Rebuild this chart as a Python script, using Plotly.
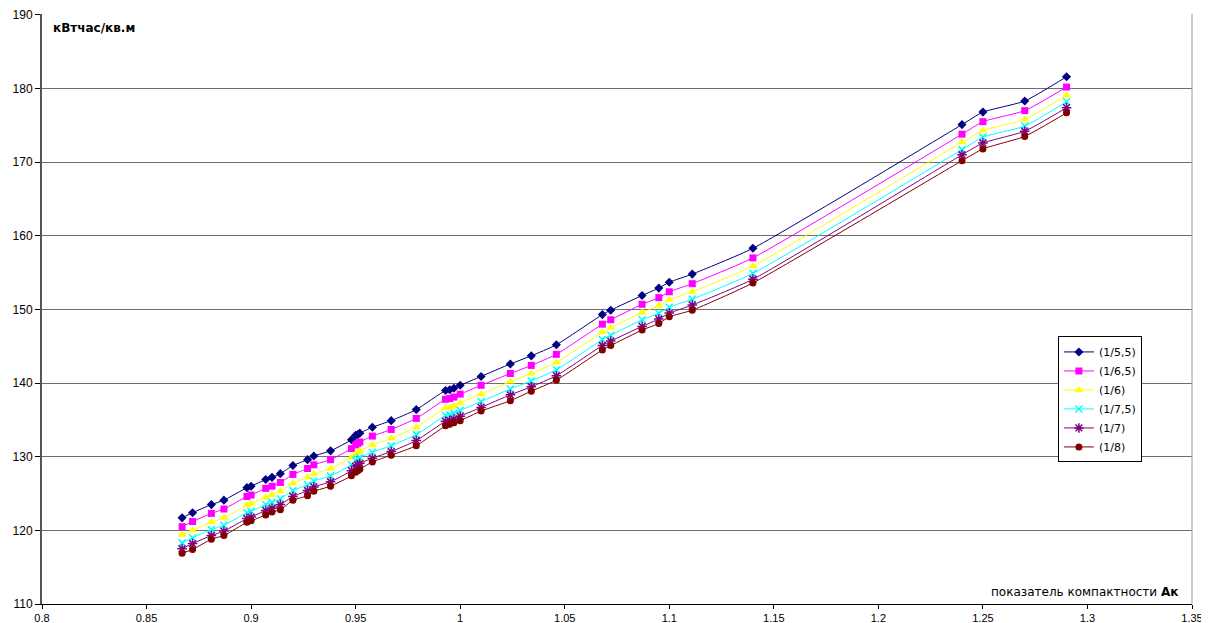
import plotly.graph_objects as go

x_vals = [0.867, 0.872, 0.881, 0.887, 0.898, 0.900, 0.907, 0.910, 0.914, 0.920,
          0.927, 0.930, 0.938, 0.948, 0.950, 0.951, 0.952, 0.958, 0.967, 0.979,
          0.993, 0.995, 0.997, 1.000, 1.010, 1.024, 1.034, 1.046, 1.068, 1.072,
          1.087, 1.095, 1.100, 1.111, 1.140, 1.240, 1.250, 1.270, 1.290]

s_55 = [121.7, 122.4, 123.5, 124.1, 125.8, 126.0, 126.9, 127.2, 127.7, 128.8,
        129.6, 130.1, 130.8, 132.3, 132.9, 133.0, 133.2, 134.0, 134.9, 136.4,
        139.0, 139.1, 139.3, 139.7, 140.9, 142.6, 143.7, 145.2, 149.3, 149.9,
        151.9, 152.9, 153.7, 154.8, 158.3, 175.1, 176.8, 178.3, 181.6]
s_65 = [120.5, 121.2, 122.3, 122.9, 124.6, 124.8, 125.7, 126.0, 126.5, 127.6,
        128.4, 128.9, 129.6, 131.1, 131.6, 131.8, 132.0, 132.8, 133.7, 135.2,
        137.8, 137.9, 138.1, 138.5, 139.7, 141.3, 142.4, 143.9, 148.0, 148.6,
        150.7, 151.6, 152.4, 153.5, 157.0, 173.8, 175.5, 177.0, 180.2]
s_6 = [119.4, 120.0, 121.1, 121.7, 123.4, 123.6, 124.5, 124.8, 125.3, 126.4,
       127.2, 127.7, 128.4, 129.9, 130.4, 130.6, 130.8, 131.6, 132.5, 134.0,
       136.6, 136.7, 136.9, 137.3, 138.5, 140.2, 141.3, 142.8, 146.9, 147.5,
       149.6, 150.5, 151.3, 152.4, 155.9, 172.7, 174.3, 175.8, 179.1]
s_75 = [118.3, 119.0, 120.1, 120.7, 122.4, 122.6, 123.5, 123.8, 124.3, 125.4,
        126.2, 126.7, 127.4, 128.9, 129.5, 129.7, 129.9, 130.6, 131.5, 133.0,
        135.6, 135.7, 135.9, 136.3, 137.5, 139.2, 140.3, 141.8, 145.9, 146.5,
        148.6, 149.5, 150.3, 151.4, 154.9, 171.7, 173.4, 174.9, 178.2]
s_7 = [117.5, 118.2, 119.3, 119.9, 121.6, 121.8, 122.7, 123.0, 123.5, 124.6,
       125.4, 125.9, 126.6, 128.1, 128.7, 128.9, 129.1, 129.8, 130.7, 132.2,
       134.8, 134.9, 135.1, 135.5, 136.7, 138.4, 139.5, 141.0, 145.1, 145.7,
       147.7, 148.7, 149.5, 150.6, 154.1, 171.0, 172.6, 174.2, 177.4]
s_8 = [116.9, 117.4, 118.8, 119.3, 121.1, 121.3, 122.1, 122.5, 122.8, 124.1,
       124.7, 125.3, 126.0, 127.4, 127.9, 128.1, 128.3, 129.3, 130.2, 131.5,
       134.2, 134.4, 134.6, 134.9, 136.2, 137.6, 138.9, 140.4, 144.5, 145.1,
       147.2, 148.1, 149.0, 149.9, 153.6, 170.2, 171.8, 173.5, 176.7]

series_names = ["(1/5,5)", "(1/6,5)", "(1/6)", "(1/7,5)", "(1/7)", "(1/8)"]
series_vals = [s_55, s_65, s_6, s_75, s_7, s_8]
colors = ["#000080", "#FF00FF", "#FFFF00", "#00FFFF", "#800080", "#800000"]
symbols = ["diamond", "square", "triangle-up", "x-thin-open", "asterisk-open", "circle"]
sizes = [7, 7, 8, 7, 8, 7]

FONT = "Liberation Sans, Arial, sans-serif"
WIDE = "DejaVu Sans, Liberation Sans, sans-serif"

fig = go.Figure()
for name, vals, c, sym, sz in zip(series_names, series_vals, colors, symbols, sizes):
    marker = dict(symbol=sym, size=sz, color=c)
    if sym.endswith("open"):
        marker["line"] = dict(color=c, width=1.5)
    fig.add_trace(go.Scatter(
        x=x_vals, y=vals, name=name, mode="lines+markers",
        line=dict(color=c, width=1, shape="spline", smoothing=0.5),
        marker=marker,
    ))

fig.update_layout(
    width=1201, height=615,
    margin=dict(l=34, r=17, t=6, b=19, autoexpand=False),
    paper_bgcolor="white", plot_bgcolor="white",
    font=dict(family=FONT, size=11, color="black"),
    showlegend=True,
    legend=dict(
        x=0.8834, y=0.4535, xanchor="left", yanchor="top",
        bgcolor="white", bordercolor="black", borderwidth=1,
        font=dict(family=WIDE, size=11, color="black"),
        itemwidth=30, tracegroupgap=0,
    ),
    xaxis=dict(
        range=[0.8, 1.35], dtick=0.05, tick0=0.8,
        showgrid=False, zeroline=False, automargin=False,
        showline=True, linecolor="black", linewidth=1,
        ticks="outside", ticklen=4, tickcolor="black",
        tickfont=dict(family=FONT, size=11, color="black"),
    ),
    yaxis=dict(
        range=[110, 190.12], dtick=10, tick0=110, automargin=False,
        showgrid=True, gridcolor="#6e6e6e", gridwidth=1,
        zeroline=False,
        showline=True, linecolor="#555555", linewidth=2,
        ticks="outside", ticklen=5, tickcolor="black",
        tickfont=dict(family=FONT, size=12, color="black"),
    ),
    annotations=[
        dict(text="<b>кВтчас/кв.м</b>", xref="paper", yref="paper",
             x=0.008, y=0.976, xanchor="left", yanchor="middle",
             showarrow=False, font=dict(family=WIDE, size=12, color="black")),
        dict(text="показатель компактности <b>Ак</b>", xref="paper", yref="paper",
             x=0.9896, y=0.0203, xanchor="right", yanchor="middle",
             showarrow=False, font=dict(family=WIDE, size=12, color="black")),
    ],
    shapes=[
        dict(type="line", xref="paper", yref="paper", x0=1, x1=1, y0=0, y1=1,
             line=dict(color="#9a9a9a", width=1)),
    ],
)

fig.write_html("out.html")
